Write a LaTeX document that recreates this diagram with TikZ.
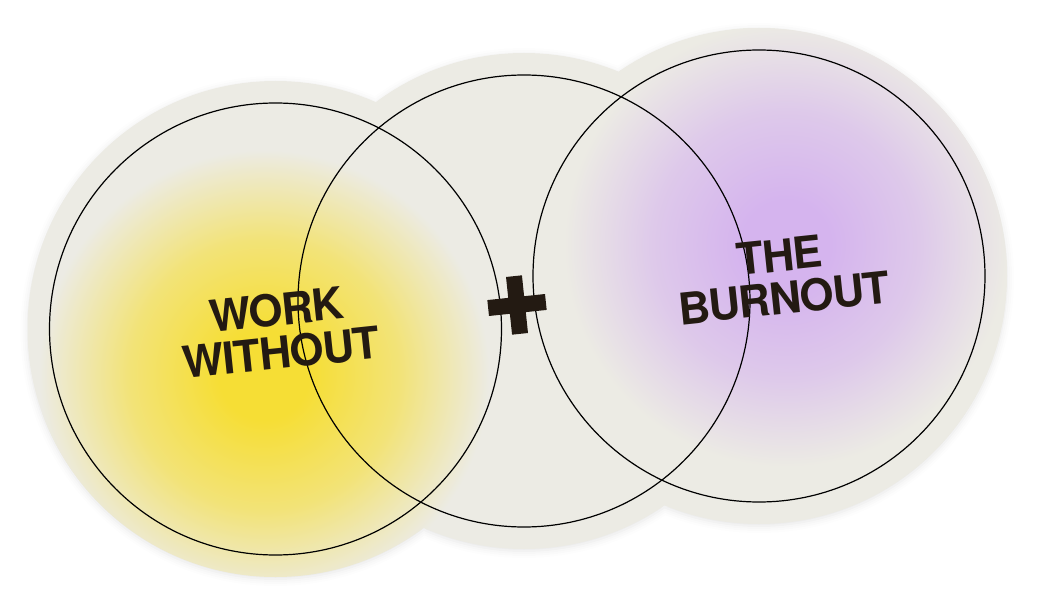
\documentclass[tikz,border=0pt]{standalone}
\usepackage{fontspec}
\setmainfont{TeX Gyre Heros}
\newfontfamily\wordfont[LetterSpace=-3]{TeX Gyre Heros}
\usetikzlibrary{shadows.blur}
\definecolor{bgc}{HTML}{ECEBE4}
\definecolor{yc}{HTML}{F6DE35}
\definecolor{pc}{HTML}{D5B4EE}
\definecolor{ink}{HTML}{231A12}
\colorlet{ymid}{yc!62!bgc}
\colorlet{pmid}{pc!62!bgc}
\pgfdeclareradialshading{yelshade}{\pgfpoint{0bp}{0bp}}{color(0bp)=(yc); color(5bp)=(yc); color(15bp)=(ymid); color(25bp)=(bgc); color(50bp)=(bgc)}
\pgfdeclareradialshading{purshade}{\pgfpoint{0bp}{0bp}}{color(0bp)=(pc); color(5bp)=(pc); color(15bp)=(pmid); color(25bp)=(bgc); color(50bp)=(bgc)}
\begin{document}
\begin{tikzpicture}[x=1pt,y=-1pt,
  ring/.style={draw=black, line width=1.2pt},
  wordlbl/.style={font=\wordfont\bfseries\fontsize{44}{43}\selectfont, text=ink, align=center, rotate=6, inner sep=0pt},
  blob/.style={fill=bgc, blur shadow={shadow xshift=0pt, shadow yshift=-2pt, shadow blur radius=7pt, shadow opacity=10}}]
\useasboundingbox (0,0) rectangle (1037,604);
% background blob
\path[blob] (275.5,329) circle (248pt) (524,301) circle (248pt) (759,276) circle (248pt);
% gradients
\begin{scope}
  \clip (275.5,329) circle (248pt) (524,301) circle (248pt) (759,276) circle (248pt);
  \shade[shading=yelshade] (264,375) circle (225pt);
  \shade[shading=purshade] (786,245) circle (222pt);
\end{scope}
% rings
\node[ring, circle, minimum size=452pt, inner sep=0pt] (left) at (275.5,329) {};
\node[ring, circle, minimum size=452pt, inner sep=0pt] (mid) at (524,301) {};
\node[ring, circle, minimum size=452pt, inner sep=0pt] (right) at (759,276) {};
% plus
\begin{scope}[shift={(517,305)}, rotate=6]
  \fill[ink] (-29,-8) rectangle (29,8);
  \fill[ink] (-8,-29) rectangle (8,29);
\end{scope}
% labels
\node[wordlbl] (work) at (279,331) {WORK\\WITHOUT};
\node[wordlbl] (burn) at (782,277) {THE\\BURNOUT};
\end{tikzpicture}
\end{document}
